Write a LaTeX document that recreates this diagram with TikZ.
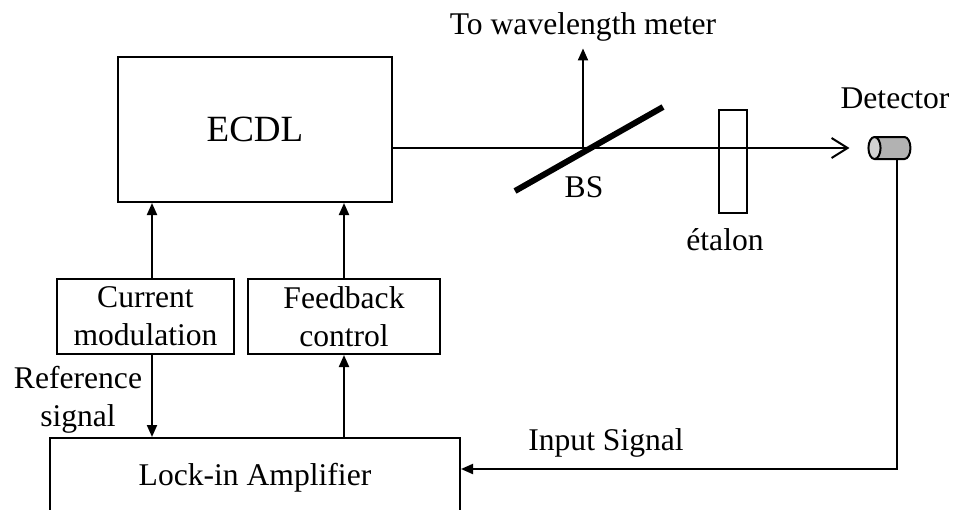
\documentclass[tikz,border=0pt]{standalone}
\usepackage{fontspec}
\setmainfont{Liberation Serif}
\usetikzlibrary{shapes.geometric, arrows.meta, positioning, calc}

\begin{document}
\begin{tikzpicture}[
    x=0.5pt, y=-0.5pt,
    font=\fontsize{15.8}{19}\selectfont,
    box/.style={
      rectangle, draw=black, line width=1pt, align=center, inner sep=0pt
    },
    sig/.style={-{Triangle[length=6pt, width=5pt]}, line width=1pt},
    beam/.style={-{Straight Barb[length=8pt, width=10pt]}, line width=1pt},
    mirror/.style={line width=3pt},
  ]
  \useasboundingbox (0,0) rectangle (957,509);

  \node[box, minimum width=137pt, minimum height=72.5pt,
        font=\fontsize{18.5}{22}\selectfont] (ecdl) at (255,129.5) {ECDL};
  \node[box, minimum width=88.5pt, minimum height=37.5pt] (curmod) at (145.5,316.5) {Current\\modulation};
  \node[box, minimum width=96pt, minimum height=37.5pt] (fbk) at (344,316.5) {Feedback\\control};
  \node[box, minimum width=205pt, minimum height=40pt] (lockin) at (255,478) {Lock-in Amplifier};
  \node[box, minimum width=14pt, minimum height=51.5pt] (etalon) at (733,161.5) {};
  \node[cylinder, shape border rotate=180, aspect=0.55, draw, line width=1pt,
        cylinder uses custom fill, cylinder body fill=gray!60, cylinder end fill=gray!35,
        inner xsep=0pt, inner ysep=5.5pt, minimum height=21pt] (det) at (896,148) {};

  % labels
  \node (meter) at (583,27) {To wavelength meter};
  \node (bslabel) at (584,187) {BS};
  \node (etlabel) at (725,240) {étalon};
  \node (detlabel) at (895,98) {Detector};
  \node (inlabel) at (606,443) {Input Signal};
  \node[align=center] (reflabel) at (78,400) {Reference\\signal};

  \coordinate (bs) at (583,149);
  \coordinate (refx) at (152,0);
  \coordinate (turn) at (897,469);

  \draw[beam, shorten >=9pt] (ecdl.east |- det.west) -- (det.west);
  \draw[mirror] (bs) ++(-68,42) -- ++(148,-84);
  \draw[sig] (bs) -- (meter.south);
  \draw[sig] (curmod.north -| refx) -- (ecdl.south -| refx);
  \draw[sig] (fbk.north) -- (ecdl.south -| fbk.north);
  \draw[sig] (curmod.south -| refx) -- (lockin.north -| refx);
  \draw[sig] (lockin.north -| fbk.south) -- (fbk.south);
  \draw[sig] (det.south -| turn) -- (turn) -- (lockin.east |- turn);
\end{tikzpicture}
\end{document}
